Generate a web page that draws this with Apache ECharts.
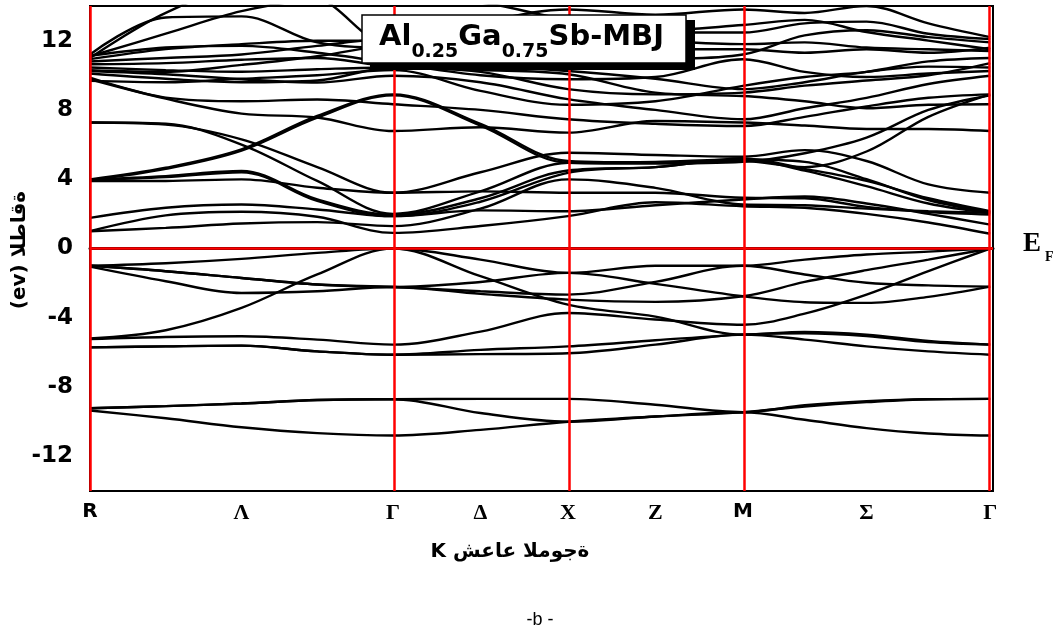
<!DOCTYPE html>
<html>
<head>
<meta charset="utf-8">
<script src="https://cdn.jsdelivr.net/npm/echarts@6/dist/echarts.min.js"></script>
<style>
  html, body { margin: 0; padding: 0; background: #fff; }
  #chart { width: 1062px; height: 631px; }
</style>
</head>
<body>
<div id="chart"></div>
<script>
// k path R - Γ - X - M - Γ (path length units)
var K_R = 0, K_G = 0.866, K_X = 1.366, K_M = 1.866, K_G2 = 2.573
var kPath = [0, 0.2165, 0.433, 0.6495, 0.866, 1.116, 1.366, 1.616, 1.866, 2.0428, 2.2195, 2.3963, 2.573]

// x labels and where they sit
var kLabelPos = [0, 0.433, 0.866, 1.116, 1.366, 1.616, 1.866, 2.2195, 2.573]
var kLabelText = ['R', 'Λ', 'Γ', 'Δ', 'X', 'Z', 'M', 'Σ', 'Γ']
var yTicks = [-12, -8, -4, 0, 4, 8, 12]

// valence bands (eV), one value per kPath point
var vLow1 = [-9.35, -9.8, -10.32, -10.66, -10.8, -10.47, -10.0, -9.7, -9.45, -9.89, -10.37, -10.68, -10.8]
var vLow2 = [-9.22, -9.1, -8.95, -8.75, -8.7, -9.5, -10.0, -9.7, -9.45, -9.12, -8.87, -8.7, -8.68]
var vLow3 = [-9.22, -9.1, -8.95, -8.75, -8.7, -8.68, -8.68, -9.02, -9.45, -9.05, -8.82, -8.7, -8.68]
var vMidA = [-5.71, -5.65, -5.61, -5.94, -6.13, -6.1, -6.05, -5.55, -4.97, -5.26, -5.65, -5.94, -6.13]
var vMidB = [-5.71, -5.65, -5.61, -5.94, -6.13, -5.85, -5.65, -5.3, -4.97, -4.9, -5.05, -5.4, -5.55]
var vMidC = [-5.23, -5.11, -5.07, -5.26, -5.55, -4.8, -3.72, -4.1, -4.4, -3.76, -2.66, -1.3, 0]
var vLH = [-5.2, -4.72, -3.43, -1.5, 0, -1.6, -3.24, -3.93, -4.97, -4.82, -4.97, -5.33, -5.55]
var vTop1 = [-1.0, -0.85, -0.6, -0.25, 0, -0.64, -1.41, -1.0, -1.0, -0.64, -0.35, -0.18, 0]
var vTop2 = [-1.0, -1.31, -1.7, -2.08, -2.22, -1.93, -1.41, -2.04, -2.76, -3.1, -3.14, -2.79, -2.2]
var vTop3 = [-1.0, -1.31, -1.7, -2.08, -2.22, -2.47, -2.66, -1.93, -1.0, -1.5, -1.98, -2.13, -2.2]
var vTop4 = [-1.05, -1.89, -2.57, -2.47, -2.22, -2.62, -2.95, -3.08, -2.76, -1.93, -1.25, -0.64, 0]

// conduction bands (eV)
var c1 = [1.0, 1.19, 1.44, 1.52, 1.29, 2.3, 3.99, 3.5, 2.54, 2.5, 2.3, 2.15, 2.06]
var c2 = [1.0, 1.91, 2.12, 1.83, 0.9, 1.3, 1.87, 2.67, 2.44, 2.35, 2.0, 1.5, 0.85]
var c3 = [1.77, 2.35, 2.54, 2.25, 1.87, 2.7, 4.37, 4.7, 5.14, 4.5, 3.6, 2.6, 2.06]
var c4 = [3.9, 3.9, 3.99, 3.51, 3.22, 3.3, 3.22, 3.22, 2.93, 2.9, 2.4, 2.1, 1.96]
var c5 = [3.99, 4.18, 4.47, 2.83, 1.96, 2.9, 4.5, 4.7, 5.2, 4.6, 3.9, 2.9, 2.15]
var c6 = [3.95, 4.12, 4.4, 2.75, 1.87, 2.2, 2.15, 2.5, 2.83, 3.0, 2.6, 2.0, 1.38]
var c7 = [3.99, 4.66, 5.72, 7.65, 8.9, 7.2, 5.05, 4.95, 5.05, 4.7, 5.6, 7.6, 8.9]
var c8 = [3.95, 4.6, 5.65, 7.55, 8.85, 7.1, 4.95, 4.9, 5.0, 5.5, 6.4, 8.0, 8.85]
var c9 = [7.27, 7.15, 6.3, 4.7, 3.22, 4.4, 5.53, 5.4, 5.3, 5.68, 5.05, 3.7, 3.22]
var c10 = [7.27, 7.2, 6.0, 3.9, 2.0, 3.3, 4.95, 5.0, 5.14, 5.0, 4.0, 2.8, 2.1]
var c11 = [9.77, 8.65, 7.79, 7.56, 6.78, 7.0, 6.69, 7.36, 7.27, 7.1, 6.9, 6.9, 6.78]
var c12 = [9.87, 8.71, 8.5, 8.6, 8.33, 8.0, 7.46, 7.2, 7.07, 7.6, 8.2, 8.7, 8.9]
var c13 = [10.25, 10.06, 9.77, 9.58, 9.97, 9.6, 8.62, 8.0, 7.46, 8.1, 8.7, 9.5, 9.97]
var c14 = [10.45, 10.3, 10.2, 10.35, 10.45, 10.3, 10.06, 9.0, 8.8, 8.5, 8.1, 8.3, 8.33]
var c15 = [10.64, 10.7, 10.9, 11.0, 10.54, 10.5, 10.25, 9.8, 9.2, 9.6, 10.2, 10.5, 10.45]
var c16 = [10.93, 11.51, 11.8, 11.99, 11.99, 12.3, 12.8, 12.5, 12.47, 13.0, 13.1, 12.4, 12.09]
var c17 = [11.12, 11.6, 11.7, 11.3, 10.7, 10.0, 9.77, 9.9, 10.93, 10.2, 9.9, 10.1, 10.25]
var c18 = [11.2, 13.34, 13.4, 11.9, 11.6, 11.7, 11.0, 11.5, 11.5, 11.3, 11.5, 11.3, 11.6]
var c19 = [11.0, 13.6, 15.0, 14.5, 11.7, 13.0, 13.8, 13.5, 13.8, 13.6, 14.0, 13.0, 12.2]
var c20 = [10.3, 10.2, 10.6, 11.1, 11.8, 12.2, 12.3, 12.0, 11.8, 11.9, 11.6, 11.5, 11.4]
var c21 = [10.8, 11.0, 11.2, 11.7, 12.1, 11.8, 10.6, 10.9, 11.2, 12.3, 12.6, 12.2, 11.9]
var c22 = [11.1, 12.4, 13.7, 14.4, 14.5, 14.2, 13.2, 12.6, 12.9, 13.2, 12.5, 12.0, 11.5]
var c23 = [10.1, 9.8, 9.6, 9.7, 10.45, 10.2, 9.2, 8.9, 9.0, 9.4, 9.7, 10.0, 10.7]
var c24 = [9.68, 9.6, 9.8, 10.0, 10.3, 9.1, 8.3, 8.5, 9.39, 9.9, 10.2, 10.8, 11.0]

var bands = [vLow1, vLow2, vLow3, vMidA, vMidB, vMidC, vLH, vTop1, vTop2, vTop3, vTop4,
  c1, c2, c3, c4, c5, c6, c7, c8, c9, c10, c11, c12, c13, c14, c15, c16, c17, c18, c19,
  c20, c21, c22, c23, c24]

var chart = echarts.init(document.getElementById('chart'))

var series = bands.map(function (b) {
  return {
    type: 'line',
    data: kPath.map(function (k, i) { return [k, b[i]] }),
    smooth: 0.35,
    symbol: 'none',
    silent: true,
    clip: true,
    lineStyle: { color: '#000', width: 2.4 }
  }
})

// red reference lines at the high-symmetry points and at E = 0
series.push({
  type: 'line',
  data: [],
  symbol: 'none',
  z: 10,
  markLine: {
    silent: true,
    symbol: ['none', 'none'],
    label: { show: false },
    lineStyle: { color: '#ff0000', width: 2.5, type: 'solid' },
    data: [{ xAxis: K_R }, { xAxis: K_G }, { xAxis: K_X }, { xAxis: K_M }, { xAxis: K_G2 }, { yAxis: 0 }]
  }
})

// measure text to lay out the sub-scripted title
var ctx = document.createElement('canvas').getContext('2d')
var mainFont = 'bold 29px "DejaVu Sans"'
var subFont = 'bold 19px "DejaVu Sans"'
var pieces = [['Al', 0], ['0.25', 1], ['Ga', 0], ['0.75', 1], ['Sb-MBJ', 0]]
var tx = 379
var titleItems = pieces.map(function (p) {
  ctx.font = p[1] ? subFont : mainFont
  var w = ctx.measureText(p[0]).width
  var el = {
    type: 'text',
    x: tx,
    y: p[1] ? 52 : 37,
    z: 103,
    style: { text: p[0], font: p[1] ? subFont : mainFont, fill: '#000', verticalAlign: 'middle' }
  }
  tx += w
  return el
})

var option = {
  backgroundColor: '#fff',
  animation: false,
  grid: { left: 90, right: 69, top: 6, bottom: 140, show: true, borderColor: '#000', borderWidth: 2 },
  xAxis: {
    type: 'value',
    min: 0,
    max: K_G2 + 0.008,
    axisLine: { show: true, lineStyle: { color: '#000', width: 3 } },
    axisTick: { show: false },
    splitLine: { show: false },
    axisLabel: {
      customValues: kLabelPos,
      margin: 11,
      formatter: function (v) {
        var i = kLabelPos.indexOf(v)
        if (i < 0) return ''
        var t = kLabelText[i]
        return (t === 'R' || t === 'M') ? '{a|' + t + '}' : '{g|' + t + '}'
      },
      rich: {
        a: { fontFamily: 'DejaVu Sans', fontWeight: 'bold', fontSize: 20, color: '#000' },
        g: { fontFamily: 'Liberation Serif', fontWeight: 'bold', fontSize: 22, color: '#000' }
      }
    }
  },
  yAxis: {
    type: 'value',
    min: -14,
    max: 14,
    axisLine: { show: false },
    axisTick: { show: false },
    splitLine: { show: false },
    axisLabel: {
      customValues: yTicks,
      margin: 17,
      fontFamily: 'DejaVu Sans',
      fontWeight: 'bold',
      fontSize: 23,
      color: '#000'
    }
  },
  graphic: [
    { type: 'rect', shape: { x: 370, y: 20, width: 325, height: 50 }, style: { fill: '#000' }, z: 100 },
    { type: 'rect', shape: { x: 362, y: 15, width: 324, height: 48 }, style: { fill: '#fff', stroke: '#000', lineWidth: 1.5 }, z: 101 }
  ].concat(titleItems).concat([
    {
      type: 'text', x: 20, y: 250, rotation: Math.PI / 2, z: 100,
      style: { text: '\u202D(ev) الطاقة\u202C', font: 'bold 20px "DejaVu Sans"', fill: '#000', align: 'center', verticalAlign: 'middle' }
    },
    {
      type: 'text', x: 510, y: 552, z: 100,
      style: { text: '\u202DK شعاع الموجة\u202C', font: 'bold 20px "DejaVu Sans"', fill: '#000', align: 'center', verticalAlign: 'middle' }
    },
    {
      type: 'text', x: 540, y: 620, z: 100,
      style: { text: '-b -', font: '18px "Liberation Sans"', fill: '#000', align: 'center', verticalAlign: 'middle' }
    },
    {
      type: 'text', x: 1023, y: 244, z: 100,
      style: { text: 'E', font: 'bold 27px "Liberation Serif"', fill: '#000', align: 'left', verticalAlign: 'middle' }
    },
    {
      type: 'text', x: 1045, y: 257, z: 100,
      style: { text: 'F', font: 'bold 14px "Liberation Serif"', fill: '#000', align: 'left', verticalAlign: 'middle' }
    }
  ]),
  series: series
}

chart.setOption(option)
</script>
</body>
</html>
